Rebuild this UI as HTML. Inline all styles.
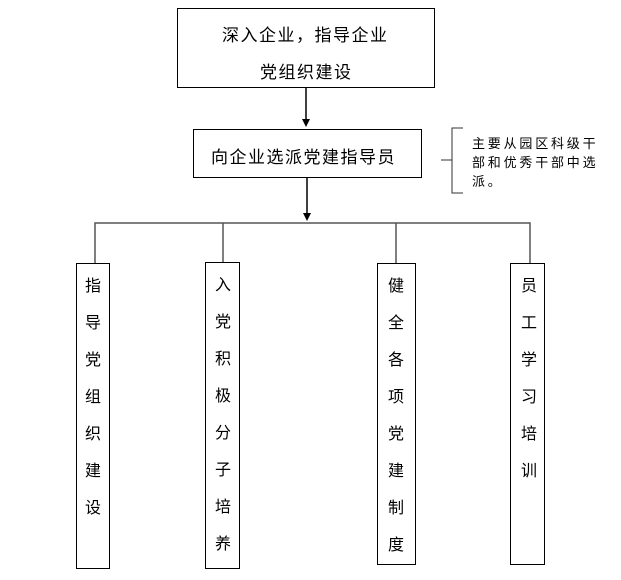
<!DOCTYPE html>
<html><head><meta charset="utf-8"><style>
body{margin:0;width:621px;height:580px;background:#fff;position:relative;overflow:hidden;font-family:"Liberation Sans","Noto Sans CJK SC",sans-serif;color:#000}
.b{position:absolute;border:1.5px solid #000;box-sizing:border-box}
.t{position:absolute;white-space:nowrap;font-size:17px;letter-spacing:1.5px}
.v{position:absolute;font-size:16px;text-align:center;line-height:37px;width:20px}
</style></head><body>
<div class="b" style="left:177px;top:8px;width:258px;height:80px"></div>
<div class="t" style="left:222px;top:21px">深入企业，指导企业</div>
<div class="t" style="left:260px;top:58px">党组织建设</div>
<div class="b" style="left:193px;top:129px;width:229px;height:49px"></div>
<div class="t" style="left:211px;top:143px">向企业选派党建指导员</div>
<svg style="position:absolute;left:0;top:0" width="621" height="580">
<line x1="306" y1="88" x2="306" y2="120" stroke="#000" stroke-width="1.5"/>
<polygon points="302,119 310,119 306,127" fill="#000"/>
<line x1="307" y1="178" x2="307" y2="214" stroke="#000" stroke-width="1.5"/>
<polygon points="303,213 311,213 307,221" fill="#000"/>
<polyline points="95,263 95,223 530,223 530,263" fill="none" stroke="#555" stroke-width="1.5"/>
<line x1="223" y1="223" x2="223" y2="262" stroke="#555" stroke-width="1.5"/>
<line x1="396" y1="223" x2="396" y2="263" stroke="#555" stroke-width="1.5"/>
<polyline points="463,128 452,128 452,193 463,193" fill="none" stroke="#333" stroke-width="1"/>
<line x1="441" y1="160" x2="452" y2="160" stroke="#333" stroke-width="1"/>
</svg>
<div style="position:absolute;left:472px;top:134px;font-size:13px;line-height:19px;white-space:nowrap;letter-spacing:2.8px">主要从园区科级干<br>部和优秀干部中选<br>派。</div>
<div class="b" style="left:76px;top:263px;width:34px;height:306px"></div>
<div class="v" style="left:83px;top:268px">指<br>导<br>党<br>组<br>织<br>建<br>设</div>
<div class="b" style="left:205px;top:262px;width:35px;height:307px"></div>
<div class="v" style="left:213px;top:267px">入<br>党<br>积<br>极<br>分<br>子<br>培<br>养</div>
<div class="b" style="left:377px;top:263px;width:39px;height:302px"></div>
<div class="v" style="left:386px;top:268px">健<br>全<br>各<br>项<br>党<br>建<br>制<br>度</div>
<div class="b" style="left:510px;top:263px;width:35px;height:302px"></div>
<div class="v" style="left:519px;top:268px">员<br>工<br>学<br>习<br>培<br>训</div>
</body></html>
